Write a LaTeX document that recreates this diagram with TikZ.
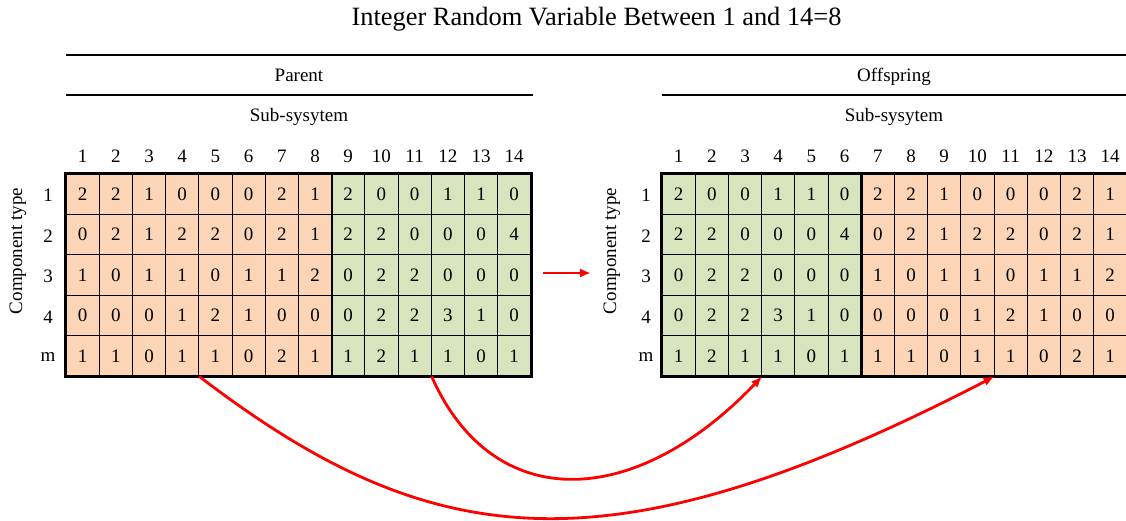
\documentclass[tikz,border=0pt]{standalone}
\usepackage{fontspec}
\setmainfont{Liberation Serif}
\usetikzlibrary{arrows.meta}
\definecolor{orangeF}{RGB}{251,213,181}
\definecolor{greenF}{RGB}{215,228,189}
\tikzset{
  cellbox/.style={draw=black, line width=0.9pt, minimum width=33.2pt, minimum height=40.4pt, inner sep=0pt, font=\fontsize{19}{22}\selectfont},
  lbl/.style={inner sep=0pt, font=\fontsize{19}{22}\selectfont},
  rulebar/.style={line width=2.8pt},
  tableframe/.style={line width=2.8pt},
  redarrow/.style={draw=red, line width=2.8pt, -{Latex[length=11pt,width=9pt]}}
}
\begin{document}
\begin{tikzpicture}[x=1pt,y=-1pt]
\useasboundingbox (0,0) rectangle (1126,521);
\clip (0,0) rectangle (1126,521);
% title
\node[inner sep=0pt, font=\fontsize{26.4}{30}\selectfont] (title) at (596.5,19) {Integer Random Variable Between 1 and 14=8};
% rules
\coordinate (topL) at (66,55);
\coordinate (topR) at (1130,55);
\draw[rulebar] (topL) -- (topR);
\node[lbl] (parent) at (299,75.5) {Parent};
\node[lbl] (offspring) at (894,76.5) {Offspring};
\coordinate (pL) at (66,95);
\coordinate (pR) at (532.8,95);
\coordinate (oL) at (662,95);
\coordinate (oR) at (1130,95);
\draw[rulebar] (pL) -- (pR);
\draw[rulebar] (oL) -- (oR);
\node[lbl] (subL) at (299,117) {Sub-sysytem};
\node[lbl] (subR) at (894,117) {Sub-sysytem};
% left table
\foreach \row [count=\r] in {{2,2,1,0,0,0,2,1,2,0,0,1,1,0},{0,2,1,2,2,0,2,1,2,2,0,0,0,4},{1,0,1,1,0,1,1,2,0,2,2,0,0,0},{0,0,0,1,2,1,0,0,0,2,2,3,1,0},{1,1,0,1,1,0,2,1,1,2,1,1,0,1}}{
  \foreach \v [count=\c] in \row {
    \ifnum\c<9 \def\cc{orangeF}\else\def\cc{greenF}\fi
    \node[cellbox, fill=\cc] (L-\r-\c) at ({66+(\c-0.5)*33.2},{174+(\r-0.5)*40.4}) {\v};
  }
}
% right table
\foreach \row [count=\r] in {{2,0,0,1,1,0,2,2,1,0,0,0,2,1},{2,2,0,0,0,4,0,2,1,2,2,0,2,1},{0,2,2,0,0,0,1,0,1,1,0,1,1,2},{0,2,2,3,1,0,0,0,0,1,2,1,0,0},{1,2,1,1,0,1,1,1,0,1,1,0,2,1}}{
  \foreach \v [count=\c] in \row {
    \ifnum\c<7 \def\cc{greenF}\else\def\cc{orangeF}\fi
    \node[cellbox, fill=\cc] (R-\r-\c) at ({662+(\c-0.5)*33.2},{174+(\r-0.5)*40.4}) {\v};
  }
}
% frames
\draw[tableframe] (L-1-1.north west) rectangle (L-5-14.south east);
\draw[tableframe] (L-1-8.north east) -- (L-5-8.south east);
\draw[tableframe] (R-1-1.north west) rectangle (R-5-14.south east);
\draw[tableframe] (R-1-6.north east) -- (R-5-6.south east);
% column headers
\foreach \c in {1,...,14}{
  \node[lbl] (LC\c) at ({66+(\c-0.5)*33.2},156) {\c};
  \node[lbl] (RC\c) at ({662+(\c-0.5)*33.2},156) {\c};
}
% row labels
\foreach \t [count=\r] in {1,2,3,4,m}{
  \node[lbl] (LR\r) at (48,{175.5+(\r-0.5)*40.4}) {\t};
  \node[lbl] (RR\r) at (646,{175.5+(\r-0.5)*40.4}) {\t};
}
\node[lbl, rotate=90] (ctL) at (18,251) {Component type};
\node[lbl, rotate=90] (ctR) at (612,251) {Component type};
% arrows
\coordinate (mA) at (543,273);
\coordinate (mB) at (591,273);
\draw[redarrow] (mA) -- (mB);
\draw[redarrow] (L-5-4.south east) .. controls (429,552) and (605,578) .. (R-5-10.south east);
\draw[redarrow] (L-5-11.south east) .. controls +(60,136) and +(-130,136) .. (R-5-3.south east);
\end{tikzpicture}
\end{document}
